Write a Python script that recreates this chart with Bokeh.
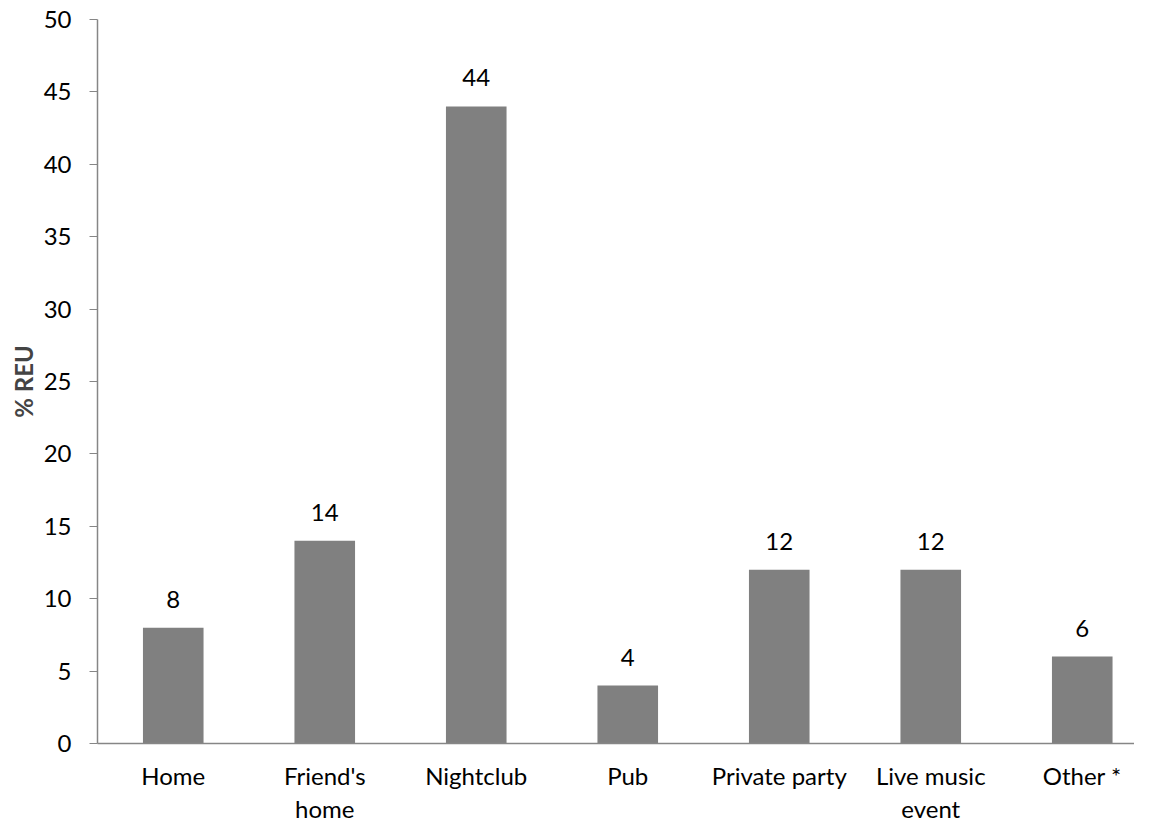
from bokeh.plotting import figure
from bokeh.models import ColumnDataSource, LabelSet, Range1d, FixedTicker
from bokeh.core.properties import value
from bokeh.embed import file_html
from bokeh.resources import INLINE

categories = ["Home", "Friend's\nhome", "Nightclub", "Pub", "Private party", "Live music\nevent", "Other *"]
values = [8, 14, 44, 4, 12, 12, 6]
y_ticks = [0, 5, 10, 15, 20, 25, 30, 35, 40, 45, 50]

FONT = "Lato"
FS = "24px"
AXIS_COLOR = "#868686"

xpos = [i + 0.5 for i in range(len(categories))]
src = ColumnDataSource(dict(x=xpos, val=values, lab=[str(v) for v in values]))

FRAME_W = 1037
FRAME_H = 724
p = figure(
    x_range=Range1d(0, FRAME_W / 151.5),
    y_range=Range1d(0, 50),
    frame_width=FRAME_W, frame_height=FRAME_H,
    output_backend="svg", toolbar_location=None,
    min_border_left=97, min_border_top=19, min_border_right=0, min_border_bottom=0,
)
p.vbar(x="x", top="val", width=0.4, source=src, fill_color="#808080", line_color=None)

labels = LabelSet(x="x", y="val", text="lab", source=src, text_align="center",
                  text_baseline="alphabetic", y_offset=20,
                  text_font=value(FONT), text_font_size=FS, text_color="black")
p.add_layout(labels)

p.outline_line_color = None
p.xgrid.visible = False
p.ygrid.visible = False

p.yaxis.ticker = FixedTicker(ticks=y_ticks)
p.yaxis.axis_label = "% REU"
p.yaxis.axis_label_text_font = FONT
p.yaxis.axis_label_text_font_style = "bold"
p.yaxis.axis_label_text_font_size = FS
p.yaxis.axis_label_standoff = 3
p.yaxis.major_label_text_font = FONT
p.yaxis.major_label_text_font_size = FS
p.yaxis.major_label_text_color = "black"
p.yaxis.major_tick_out = 8
p.yaxis.major_tick_in = 0
p.yaxis.minor_tick_line_color = None
p.yaxis.axis_line_color = AXIS_COLOR
p.yaxis.major_tick_line_color = AXIS_COLOR
p.yaxis.major_label_standoff = 18
p.yaxis.axis_line_width = 1.5

p.xaxis.ticker = FixedTicker(ticks=xpos)
p.xaxis.major_label_overrides = {x: c for x, c in zip(xpos, categories)}
p.xaxis.major_label_text_font = FONT
p.xaxis.major_label_text_font_size = FS
p.xaxis.major_label_text_color = "black"
p.xaxis.major_label_text_line_height = 1.15
p.xaxis.major_tick_line_color = None
p.xaxis.minor_tick_line_color = None
p.xaxis.axis_line_color = AXIS_COLOR
p.xaxis.axis_line_width = 1.5
p.xaxis.major_label_standoff = 11
p.xaxis.major_label_orientation = "horizontal"

open("out.html", "w").write(file_html(p, INLINE))
